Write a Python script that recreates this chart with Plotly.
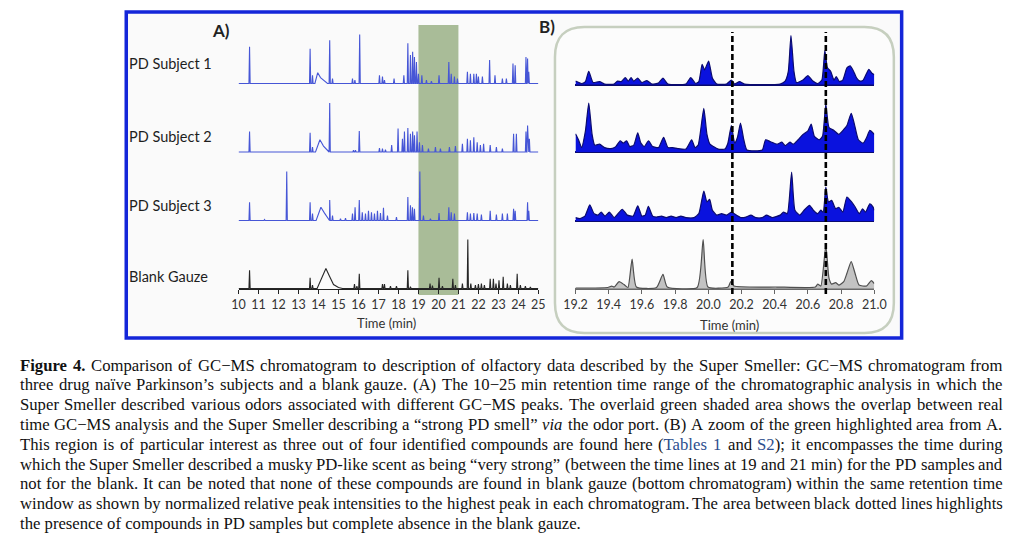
import glob
import struct
import plotly.graph_objects as go

W, H = 1024, 541

# ---------------- Panel A data (apex time, relative height) ----------------
pd1_a_t = [10.55, 13.58, 13.70, 14.56, 14.70, 15.70, 15.82, 16.06, 17.05, 17.20, 17.30, 17.78, 18.27, 18.47, 18.60, 18.71, 18.80, 18.90, 19.00, 19.17, 19.40, 19.65, 20.03, 20.52, 20.64, 20.80, 20.95, 21.45, 21.60, 21.77, 21.90, 22.00, 22.20, 22.56, 22.83, 23.20, 23.40, 23.73, 23.84, 24.38, 24.46, 24.52]
pd1_a_h = [0.75, 0.71, 0.17, 0.88, 0.10, 0.10, 0.07, 1.00, 0.17, 0.14, 0.07, 0.10, 0.17, 0.82, 0.58, 0.65, 0.54, 0.44, 0.20, 0.17, 0.07, 0.05, 0.17, 0.44, 0.20, 0.14, 0.10, 0.24, 0.20, 0.20, 0.20, 0.14, 0.14, 0.48, 0.17, 0.10, 0.10, 0.41, 0.37, 0.54, 0.51, 0.24]
pd1_hump_t = [13.82, 13.96, 14.10, 14.30, 14.45]
pd1_hump_y = [0.00, 0.22, 0.12, 0.04, 0.00]

pd2_a_t = [10.55, 13.58, 13.70, 14.56, 15.75, 15.85, 16.04, 17.05, 17.20, 17.35, 17.66, 17.98, 18.20, 18.30, 18.47, 18.60, 18.71, 18.80, 18.93, 19.05, 19.20, 19.50, 19.85, 20.10, 20.55, 20.85, 21.20, 21.45, 21.60, 21.77, 21.94, 22.10, 22.26, 22.59, 22.90, 23.20, 23.76, 23.90, 24.38, 24.46, 24.55]
pd2_a_h = [0.42, 0.39, 0.10, 1.00, 0.04, 0.04, 0.43, 0.08, 0.07, 0.05, 0.14, 0.48, 0.27, 0.42, 0.49, 0.37, 0.42, 0.34, 0.42, 0.20, 0.14, 0.07, 0.10, 0.07, 0.10, 0.12, 0.17, 0.27, 0.24, 0.30, 0.20, 0.14, 0.17, 0.14, 0.10, 0.07, 0.37, 0.37, 0.42, 0.54, 0.27]
pd2_hump_t = [13.85, 14.07, 14.25, 14.45, 14.52]
pd2_hump_y = [0.00, 0.25, 0.12, 0.02, 0.00]

pd3_a_t = [10.55, 11.30, 12.41, 13.58, 13.70, 14.56, 14.70, 15.10, 15.35, 15.70, 15.83, 16.04, 16.19, 16.35, 16.50, 16.65, 16.80, 16.95, 17.10, 17.25, 17.45, 17.90, 18.47, 18.60, 18.70, 18.80, 19.07, 19.25, 19.60, 20.03, 20.52, 20.64, 20.80, 21.45, 21.60, 21.77, 21.94, 22.15, 22.59, 22.90, 23.20, 23.45, 23.76, 23.84, 24.46, 24.52]
pd3_a_h = [0.37, 0.02, 1.00, 0.37, 0.14, 0.42, 0.10, 0.04, 0.05, 0.14, 0.27, 0.42, 0.17, 0.14, 0.20, 0.17, 0.14, 0.20, 0.15, 0.26, 0.10, 0.07, 0.48, 0.31, 0.27, 0.24, 1.00, 0.10, 0.04, 0.15, 0.27, 0.17, 0.14, 0.17, 0.14, 0.15, 0.14, 0.12, 0.20, 0.12, 0.14, 0.14, 0.24, 0.20, 0.37, 0.20]
pd3_hump_t = [13.88, 14.12, 14.30, 14.50, 14.55]
pd3_hump_y = [0.00, 0.27, 0.15, 0.03, 0.00]

bl_a_t = [10.55, 13.58, 13.70, 15.80, 15.92, 16.04, 17.20, 17.30, 17.60, 17.90, 18.47, 18.60, 19.58, 19.70, 20.03, 20.20, 20.72, 20.85, 21.20, 21.47, 21.62, 21.85, 22.00, 22.15, 22.30, 22.59, 22.75, 22.88, 23.03, 23.24, 23.45, 23.60, 23.94, 24.10, 24.35, 24.60]
bl_a_h = [0.37, 0.22, 0.07, 0.09, 0.05, 0.30, 0.09, 0.09, 0.05, 0.05, 0.37, 0.04, 0.10, 0.06, 0.22, 0.05, 0.20, 0.07, 0.10, 1.00, 0.10, 0.07, 0.09, 0.10, 0.07, 0.20, 0.20, 0.10, 0.17, 0.24, 0.10, 0.07, 0.30, 0.07, 0.05, 0.03]
bl_hump_t = [13.93, 14.37, 14.55, 14.75, 15.00, 15.20]
bl_hump_y = [0.00, 0.41, 0.25, 0.08, 0.02, 0.00]

a_tick_vals = list(range(10, 26))

# ---------------- Panel B data (profile vertices) ----------------
pd1_b_t = [19.200,19.237,19.260,19.280,19.306,19.345,19.375,19.433,19.453,19.476,19.500,19.518,19.535,19.551,19.575,19.600,19.630,19.660,19.700,19.727,19.757,19.865,19.894,19.924,19.943,19.963,19.978,20.002,20.025,20.051,20.110,20.139,20.159,20.188,20.218,20.433,20.463,20.482,20.498,20.516,20.531,20.570,20.600,20.630,20.659,20.684,20.702,20.718,20.737,20.757,20.771,20.790,20.810,20.835,20.855,20.875,20.894,20.914,20.933,20.967,20.986,21.000]
pd1_b_y = [0.07,0.02,0.06,0.27,0.04,0.06,0.01,0.01,0.07,0.06,0.14,0.07,0.14,0.07,0.13,0.04,0.08,0.01,0.03,0.13,0.01,0.01,0.14,0.02,0.06,0.41,0.30,0.48,0.13,0.01,0.01,0.09,0.01,0.06,0.01,0.01,0.07,0.27,1.00,0.27,0.04,0.09,0.18,0.07,0.02,0.09,0.69,0.34,0.27,0.09,0.16,0.06,0.09,0.34,0.38,0.27,0.13,0.07,0.09,0.31,0.23,0.20]

pd2_b_t = [19.200,19.218,19.237,19.260,19.280,19.300,19.316,19.345,19.375,19.414,19.443,19.469,19.488,19.508,19.527,19.551,19.575,19.594,19.614,19.640,19.665,19.700,19.731,19.757,19.786,19.816,19.865,19.900,19.920,19.939,19.973,19.992,20.010,20.031,20.060,20.100,20.118,20.139,20.159,20.175,20.194,20.214,20.233,20.325,20.345,20.375,20.414,20.443,20.463,20.492,20.512,20.541,20.571,20.600,20.620,20.639,20.669,20.688,20.708,20.727,20.757,20.786,20.816,20.835,20.861,20.880,20.904,20.933,20.953,20.973,20.992,21.000]
pd2_b_y = [0.37,0.25,0.09,0.43,1.00,0.36,0.14,0.16,0.09,0.07,0.11,0.23,0.18,0.23,0.11,0.14,0.39,0.18,0.11,0.23,0.11,0.09,0.30,0.09,0.09,0.07,0.06,0.25,0.09,0.14,0.89,0.36,0.16,0.11,0.06,0.06,0.18,0.54,0.18,0.29,0.59,0.25,0.04,0.04,0.25,0.21,0.16,0.20,0.13,0.20,0.16,0.25,0.36,0.43,0.57,0.32,0.25,0.32,0.97,0.50,0.44,0.36,0.46,0.54,0.79,0.57,0.25,0.18,0.29,0.44,0.39,0.36]

pd3_b_t = [19.200,19.227,19.257,19.286,19.312,19.335,19.355,19.378,19.404,19.433,19.482,19.512,19.547,19.575,19.600,19.620,19.639,19.665,19.688,19.718,19.747,19.776,19.806,19.835,19.865,19.914,19.943,19.973,19.992,20.008,20.025,20.051,20.080,20.110,20.139,20.169,20.198,20.227,20.257,20.286,20.325,20.351,20.384,20.433,20.453,20.476,20.502,20.522,20.551,20.580,20.610,20.633,20.659,20.678,20.692,20.708,20.724,20.743,20.767,20.786,20.810,20.835,20.861,20.884,20.910,20.929,20.947,20.973,20.992,21.000]
pd3_b_y = [0.07,0.05,0.10,0.33,0.15,0.12,0.18,0.10,0.18,0.07,0.24,0.12,0.10,0.31,0.10,0.12,0.30,0.10,0.08,0.10,0.07,0.10,0.07,0.10,0.07,0.07,0.15,0.61,0.39,0.44,0.22,0.12,0.15,0.12,0.18,0.12,0.07,0.08,0.12,0.07,0.07,0.12,0.07,0.12,0.18,0.15,1.00,0.22,0.12,0.23,0.32,0.22,0.15,0.22,0.18,0.69,0.39,0.42,0.25,0.28,0.18,0.49,0.40,0.29,0.15,0.25,0.18,0.35,0.29,0.22]

bl_b_t = [19.200,19.394,19.418,19.433,19.463,19.492,19.516,19.541,19.567,19.688,19.727,19.753,19.933,19.969,19.998,20.120,20.135,20.155,20.414,20.645,20.659,20.678,20.708,20.727,20.743,20.767,20.786,20.816,20.835,20.861,20.884,20.908,20.953,20.982,21.000]
bl_b_y = [0.01,0.02,0.05,0.03,0.14,0.08,0.02,0.60,0.03,0.02,0.29,0.03,0.02,1.00,0.03,0.03,0.14,0.05,0.03,0.03,0.09,0.05,0.88,0.21,0.09,0.12,0.07,0.14,0.31,0.55,0.31,0.07,0.05,0.16,0.10]

marker_lines = [20.145, 20.708]
row_labels = ["PD Subject 1", "PD Subject 2", "PD Subject 3", "Blank Gauze"]

# caption: each line is a list of (text, style) runs; r=regular b=bold i=italic c=link colour
caption_lines = [
    [("Figure 4.", "b"), (" Comparison of GC−MS chromatogram to description of olfactory data described by the Super Smeller: GC−MS chromatogram from", "r")],
    [("three drug naïve Parkinson’s subjects and a blank gauze. (A) The 10−25 min retention time range of the chromatographic analysis in which the", "r")],
    [("Super Smeller described various odors associated with different GC−MS peaks. The overlaid green shaded area shows the overlap between real", "r")],
    [("time GC−MS analysis and the Super Smeller describing a “strong PD smell” ", "r"), ("via", "i"), (" the odor port. (B) A zoom of the green highlighted area from A.", "r")],
    [("This region is of particular interest as three out of four identified compounds are found here (", "r"), ("Tables 1", "c"), (" and ", "r"), ("S2", "c"), ("); it encompasses the time during", "r")],
    [("which the Super Smeller described a musky PD-like scent as being “very strong” (between the time lines at 19 and 21 min) for the PD samples and", "r")],
    [("not for the blank. It can be noted that none of these compounds are found in blank gauze (bottom chromatogram) within the same retention time", "r")],
    [("window as shown by normalized relative peak intensities to the highest peak in each chromatogram. The area between black dotted lines highlights", "r")],
    [("the presence of compounds in PD samples but complete absence in the blank gauze.", "r")],
]

# ---------------- helpers ----------------
def px_x(p):
    return p / W

def px_y(p):
    return 1 - p / H

def spike_profile(times, heights, hump_t, hump_y, d=0.03):
    pts = [(10.0, 0.0), (25.0, 0.0)]
    for t, h in zip(times, heights):
        pts += [(t - d, 0.0), (t, h), (t + d, 0.0)]
    pts += list(zip(hump_t, hump_y))
    pts.sort()
    return [p[0] for p in pts], [p[1] for p in pts]

def load_width_fn(fname):
    paths = glob.glob("/usr/share/fonts/**/" + fname, recursive=True) + \
            glob.glob("/usr/local/share/fonts/**/" + fname, recursive=True)
    if not paths:
        return None
    try:
        data = open(paths[0], "rb").read()
        ntab = struct.unpack(">H", data[4:6])[0]
        tabs = {}
        for i in range(ntab):
            tag, _, off, ln = struct.unpack(">4sIII", data[12 + 16 * i:28 + 16 * i])
            tabs[tag.decode("latin1")] = off
        upm = struct.unpack(">H", data[tabs["head"] + 18:tabs["head"] + 20])[0]
        nhm = struct.unpack(">H", data[tabs["hhea"] + 34:tabs["hhea"] + 36])[0]
        ho = tabs["hmtx"]
        adv = [struct.unpack(">H", data[ho + 4 * i:ho + 4 * i + 2])[0] for i in range(nhm)]
        co = tabs["cmap"]
        nsub = struct.unpack(">H", data[co + 2:co + 4])[0]
        cmap = {}
        for i in range(nsub):
            pid, eid, so = struct.unpack(">HHI", data[co + 4 + 8 * i:co + 12 + 8 * i])
            st = co + so
            fmt = struct.unpack(">H", data[st:st + 2])[0]
            if pid == 3 and eid == 1 and fmt == 4:
                sx2 = struct.unpack(">H", data[st + 6:st + 8])[0]
                n = sx2 // 2
                ends = struct.unpack(">%dH" % n, data[st + 14:st + 14 + sx2])
                starts = struct.unpack(">%dH" % n, data[st + 16 + sx2:st + 16 + 2 * sx2])
                deltas = struct.unpack(">%dh" % n, data[st + 16 + 2 * sx2:st + 16 + 3 * sx2])
                rp = st + 16 + 3 * sx2
                roffs = struct.unpack(">%dH" % n, data[rp:rp + sx2])
                for s in range(n):
                    for c in range(starts[s], min(ends[s], 0x3000) + 1):
                        if roffs[s] == 0:
                            g = (c + deltas[s]) & 0xFFFF
                        else:
                            a = rp + 2 * s + roffs[s] + 2 * (c - starts[s])
                            g = struct.unpack(">H", data[a:a + 2])[0]
                            if g:
                                g = (g + deltas[s]) & 0xFFFF
                        cmap[c] = g
                break
        if not cmap:
            return None

        def width(text, size):
            tot = 0
            for ch in text:
                g = cmap.get(ord(ch), 0)
                tot += adv[g] if g < len(adv) else adv[-1]
            return tot * size / upm
        return width
    except Exception:
        return None

fig = go.Figure()

A_series = [
    (pd1_a_t, pd1_a_h, pd1_hump_t, pd1_hump_y, "#4656d6"),
    (pd2_a_t, pd2_a_h, pd2_hump_t, pd2_hump_y, "#4656d6"),
    (pd3_a_t, pd3_a_h, pd3_hump_t, pd3_hump_y, "#4656d6"),
    (bl_a_t, bl_a_h, bl_hump_t, bl_hump_y, "#262626"),
]
for i, (t, h, ht, hy, col) in enumerate(A_series):
    xs, ys = spike_profile(t, h, ht, hy)
    fig.add_trace(go.Scatter(x=xs, y=ys, mode="lines", xaxis="x",
                             yaxis="y" if i == 0 else f"y{i+1}",
                             line=dict(color=col, width=1.1), hoverinfo="skip"))

B_series = [
    (pd1_b_t, pd1_b_y, "#0a12de", "#0b0b6e"),
    (pd2_b_t, pd2_b_y, "#0a12de", "#0b0b6e"),
    (pd3_b_t, pd3_b_y, "#0a12de", "#0b0b6e"),
    (bl_b_t, bl_b_y, "#c3c3c3", "#505050"),
]
for i, (t, y, fc, lc) in enumerate(B_series):
    fig.add_trace(go.Scatter(x=t, y=y, mode="lines", xaxis="x2", yaxis=f"y{i+5}",
                             fill="tozeroy", fillcolor=fc,
                             line=dict(color=lc, width=1.2, shape="spline", smoothing=0.5),
                             hoverinfo="skip"))

A_base = [83.5, 152.0, 220.5, 288.5]
B_base = [84.5, 152.0, 221.0, 288.5]
unit = 49.0
yr = [-0.02, 1.03]

layout = dict(
    width=W, height=H, margin=dict(l=0, r=0, t=0, b=0),
    paper_bgcolor="white", plot_bgcolor="rgba(0,0,0,0)", showlegend=False,
    xaxis=dict(domain=[px_x(232), px_x(539)], range=[10, 25], anchor="free",
               position=px_y(288.5), tickmode="array", tickvals=a_tick_vals,
               ticks="outside", ticklen=4, tickcolor="#222", showline=True,
               linecolor="#222", linewidth=1, showgrid=False, zeroline=False,
               tickfont=dict(family="Lato", size=12.5, color="#333")),
    xaxis2=dict(domain=[px_x(577), px_x(883)], range=[19.2, 21.0], anchor="free",
                position=px_y(289), dtick=0.2, tick0=19.2, tickformat=".1f",
                ticks="outside", ticklen=4, tickcolor="#666", showline=True,
                linecolor="#6a6a6a", linewidth=1.5, showgrid=False, zeroline=False,
                tickfont=dict(family="Lato", size=12.5, color="#333")),
)
for i, b in enumerate(A_base):
    name = "yaxis" if i == 0 else f"yaxis{i+1}"
    layout[name] = dict(domain=[px_y(b - yr[0] * unit), px_y(b - yr[1] * unit)],
                        range=yr, anchor="x", visible=False)
for i, b in enumerate(B_base):
    layout[f"yaxis{i+5}"] = dict(domain=[px_y(b - yr[0] * unit), px_y(b - yr[1] * unit)],
                                 range=yr, anchor="x2", showticklabels=False, showgrid=False,
                                 showline=False, ticks="",
                                 zeroline=(i < 3), zerolinecolor="#0b0b6e", zerolinewidth=2)
fig.update_layout(**layout)

# ---------------- shapes ----------------
shapes = []
shapes.append(dict(type="rect", xref="paper", yref="paper",
                   x0=px_x(117), x1=px_x(911), y0=px_y(338), y1=px_y(12),
                   line=dict(color="#1426d9", width=3.5), fillcolor="#fafafa", layer="below"))
x0, x1, y0, y1 = 556, 903, 27, 333
r = 30
def P(x, y):
    return f"{px_x(x):.5f},{px_y(y):.5f}"
path = (f"M {P(x0+r, y0)} L {P(x1-r, y0)} Q {P(x1, y0)} {P(x1, y0+r)} "
        f"L {P(x1, y1-r)} Q {P(x1, y1)} {P(x1-r, y1)} L {P(x0+r, y1)} "
        f"Q {P(x0, y1)} {P(x0, y1-r)} L {P(x0, y0+r)} Q {P(x0, y0)} {P(x0+r, y0)} Z")
shapes.append(dict(type="path", xref="paper", yref="paper", path=path,
                   line=dict(color="#c6cfbf", width=2.5), fillcolor="#fcfcfc", layer="below"))
shapes.append(dict(type="rect", xref="x", yref="paper", x0=19, x1=21,
                   y0=px_y(295), y1=px_y(25), line=dict(width=0),
                   fillcolor="#a9bc98", layer="below"))
for xm in marker_lines:
    shapes.append(dict(type="line", xref="x2", yref="paper", x0=xm, x1=xm,
                       y0=px_y(294), y1=px_y(32),
                       line=dict(color="black", width=2.6, dash="6px,3px"), layer="above"))
fig.update_layout(shapes=shapes)

# ---------------- annotations ----------------
ann = []
label_y = [64, 136, 205, 276]
for lab, yy in zip(row_labels, label_y):
    ann.append(dict(text=lab, xref="paper", yref="paper", x=px_x(118), y=px_y(yy),
                    xanchor="left", yanchor="middle", showarrow=False,
                    font=dict(family="Lato", size=14.5, color="#1e1e1e")))
ann.append(dict(text="<b>A)</b>", xref="paper", yref="paper", x=px_x(214), y=px_y(30),
                xanchor="center", yanchor="middle", showarrow=False,
                font=dict(family="Lato", size=17, color="#222")))
ann.append(dict(text="<b>B)</b>", xref="paper", yref="paper", x=px_x(548), y=px_y(27),
                xanchor="center", yanchor="middle", showarrow=False,
                font=dict(family="Lato", size=17, color="#222")))
ann.append(dict(text="Time (min)", xref="paper", yref="paper", x=px_x(383), y=px_y(323),
                xanchor="center", yanchor="middle", showarrow=False,
                font=dict(family="Lato", size=13, color="#333")))
ann.append(dict(text="Time (min)", xref="paper", yref="paper", x=px_x(735), y=px_y(325),
                xanchor="center", yanchor="middle", showarrow=False,
                font=dict(family="Lato", size=13, color="#333")))

# caption, justified word by word when the font metrics can be read
CAP_FONT = "Liberation Serif"
CAP_SIZE = 16.7
CAP_LEFT, CAP_RIGHT = 8.0, 1014.0
CAP_Y0, CAP_DY = 365.0, 19.8
WIDTH_FUDGE = 1.01
LINK = "#2d4f8e"
wfn = {"r": load_width_fn("LiberationSerif-Regular.ttf"),
       "b": load_width_fn("LiberationSerif-Bold.ttf"),
       "i": load_width_fn("LiberationSerif-Italic.ttf")}
wfn["c"] = wfn["r"]

def markup(text, style):
    if style == "b":
        return f"<b>{text}</b>"
    if style == "i":
        return f"<i>{text}</i>"
    if style == "c":
        return f"<span style='color:{LINK}'>{text}</span>"
    return text

def split_words(runs):
    words, cur = [], []
    for text, style in runs:
        buf = ""
        for ch in text:
            if ch == " ":
                if buf:
                    cur.append((buf, style))
                    buf = ""
                if cur:
                    words.append(cur)
                    cur = []
            else:
                buf += ch
        if buf:
            cur.append((buf, style))
    if cur:
        words.append(cur)
    return words

cap_font = dict(family=CAP_FONT, size=CAP_SIZE, color="#111")
metrics_ok = all(wfn[k] is not None for k in "rbi")
for k, runs in enumerate(caption_lines):
    ypos = px_y(CAP_Y0 + CAP_DY * k)
    last = (k == len(caption_lines) - 1)
    if metrics_ok and not last:
        words = split_words(runs)
        widths = [WIDTH_FUDGE * sum(wfn[s](t, CAP_SIZE) for t, s in w) for w in words]
        space = wfn["r"](" ", CAP_SIZE)
        gap = (CAP_RIGHT - CAP_LEFT - sum(widths)) / max(len(words) - 1, 1)
        gap = max(gap, space * 0.7)
        xcur = CAP_LEFT
        for w, wd in zip(words, widths):
            ann.append(dict(text="".join(markup(t, s) for t, s in w), xref="paper", yref="paper",
                            x=px_x(xcur), y=ypos, xanchor="left", yanchor="middle",
                            showarrow=False, borderpad=0, borderwidth=0, font=cap_font))
            xcur += wd + gap
    else:
        ann.append(dict(text="".join(markup(t, s) for t, s in runs), xref="paper", yref="paper",
                        x=px_x(CAP_LEFT), y=ypos, xanchor="left", yanchor="middle",
                        showarrow=False, align="left", borderpad=0, borderwidth=0, font=cap_font))
fig.update_layout(annotations=ann)

fig.write_html("out.html", config={"displayModeBar": False})
